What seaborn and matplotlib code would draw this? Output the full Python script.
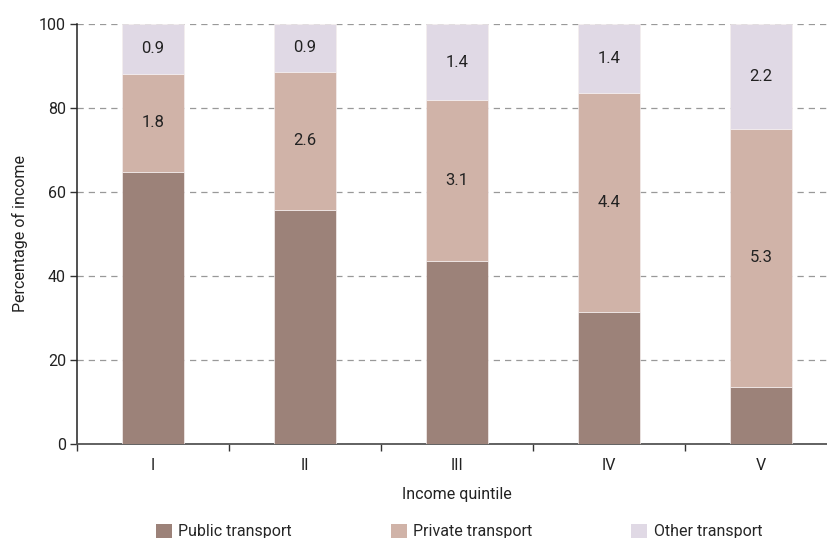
import matplotlib
matplotlib.use("Agg")
import matplotlib.pyplot as plt
import seaborn as sns
import numpy as np
from matplotlib.patches import Patch

categories = ["I", "II", "III", "IV", "V"]
public_share = [64.8, 55.7, 43.6, 31.4, 13.6]
private_share = [23.3, 32.9, 38.3, 52.2, 61.4]
other_share = [11.9, 11.4, 18.1, 16.4, 25.0]
private_labels = ["1.8", "2.6", "3.1", "4.4", "5.3"]
other_labels = ["0.9", "0.9", "1.4", "1.4", "2.2"]
series_names = ["Public transport", "Private transport", "Other transport"]
colors = ["#9c8279", "#d0b3a8", "#e0d9e5"]

sns.set_theme(style="white")
plt.rcParams['font.family'] = ['Roboto', 'DejaVu Sans']

fig = plt.figure(figsize=(8.27, 5.38), dpi=100)
ax = fig.add_axes([77/827, 1-444/538, 760/827, 420/538])

pub = np.array(public_share)
priv = np.array(private_share)
oth = np.array(other_share)

kw = dict(width=0.41, ax=ax, zorder=3, saturation=1, linewidth=0.5, edgecolor="#f4eeee")
sns.barplot(x=categories, y=pub, color=colors[0], **kw)
sns.barplot(x=categories, y=priv, bottom=pub, color=colors[1], **kw)
sns.barplot(x=categories, y=oth, bottom=pub+priv, color=colors[2], **kw)

for i in range(len(categories)):
    ax.text(i, pub[i] + priv[i]/2, private_labels[i], ha="center", va="center", fontsize=12, color="#222222", zorder=4)
    ax.text(i, pub[i] + priv[i] + oth[i]/2, other_labels[i], ha="center", va="center", fontsize=12, color="#222222", zorder=4)

ax.set_xlim(-0.5, 4.5)
ax.set_ylim(0, 100)
ax.set_yticks([0, 20, 40, 60, 80, 100])
ax.yaxis.grid(True, linestyle=(0, (5, 4)), color="#999999", linewidth=0.9, zorder=0)
ax.set_axisbelow(True)

ax.set_xticks(range(5))
ax.set_xticklabels(categories)
ax.set_xticks(np.arange(-0.5, 4.6, 1), minor=True)
ax.tick_params(axis="x", which="major", length=0, pad=10, labelsize=11.5, colors="#222222")
ax.tick_params(axis="x", which="minor", length=5, width=1, color="#333333", direction="out", bottom=True)
ax.tick_params(axis="y", which="major", length=5, width=1, color="#333333", direction="out", left=True, labelsize=11.5, labelcolor="#222222", pad=3)

for s in ["top", "right"]:
    ax.spines[s].set_visible(False)
ax.spines["left"].set_color("#222222")
ax.spines["left"].set_linewidth(1.1)
ax.spines["bottom"].set_color("#555555")
ax.spines["bottom"].set_linewidth(1.3)

ax.set_xlabel("Income quintile", fontsize=11.5, color="#222222", labelpad=10)
ax.set_ylabel("Percentage of income", fontsize=11.5, color="#222222", labelpad=8)

handles = [Patch(facecolor=c, edgecolor="none") for c in colors]
fig.legend(handles, series_names, loc="center", bbox_to_anchor=(0.555, 0.012), ncol=3, frameon=False,
           fontsize=11.5, handlelength=1.0, handleheight=1.0, handletextpad=0.4, columnspacing=6.2)

fig.savefig("out.png", dpi=100)
